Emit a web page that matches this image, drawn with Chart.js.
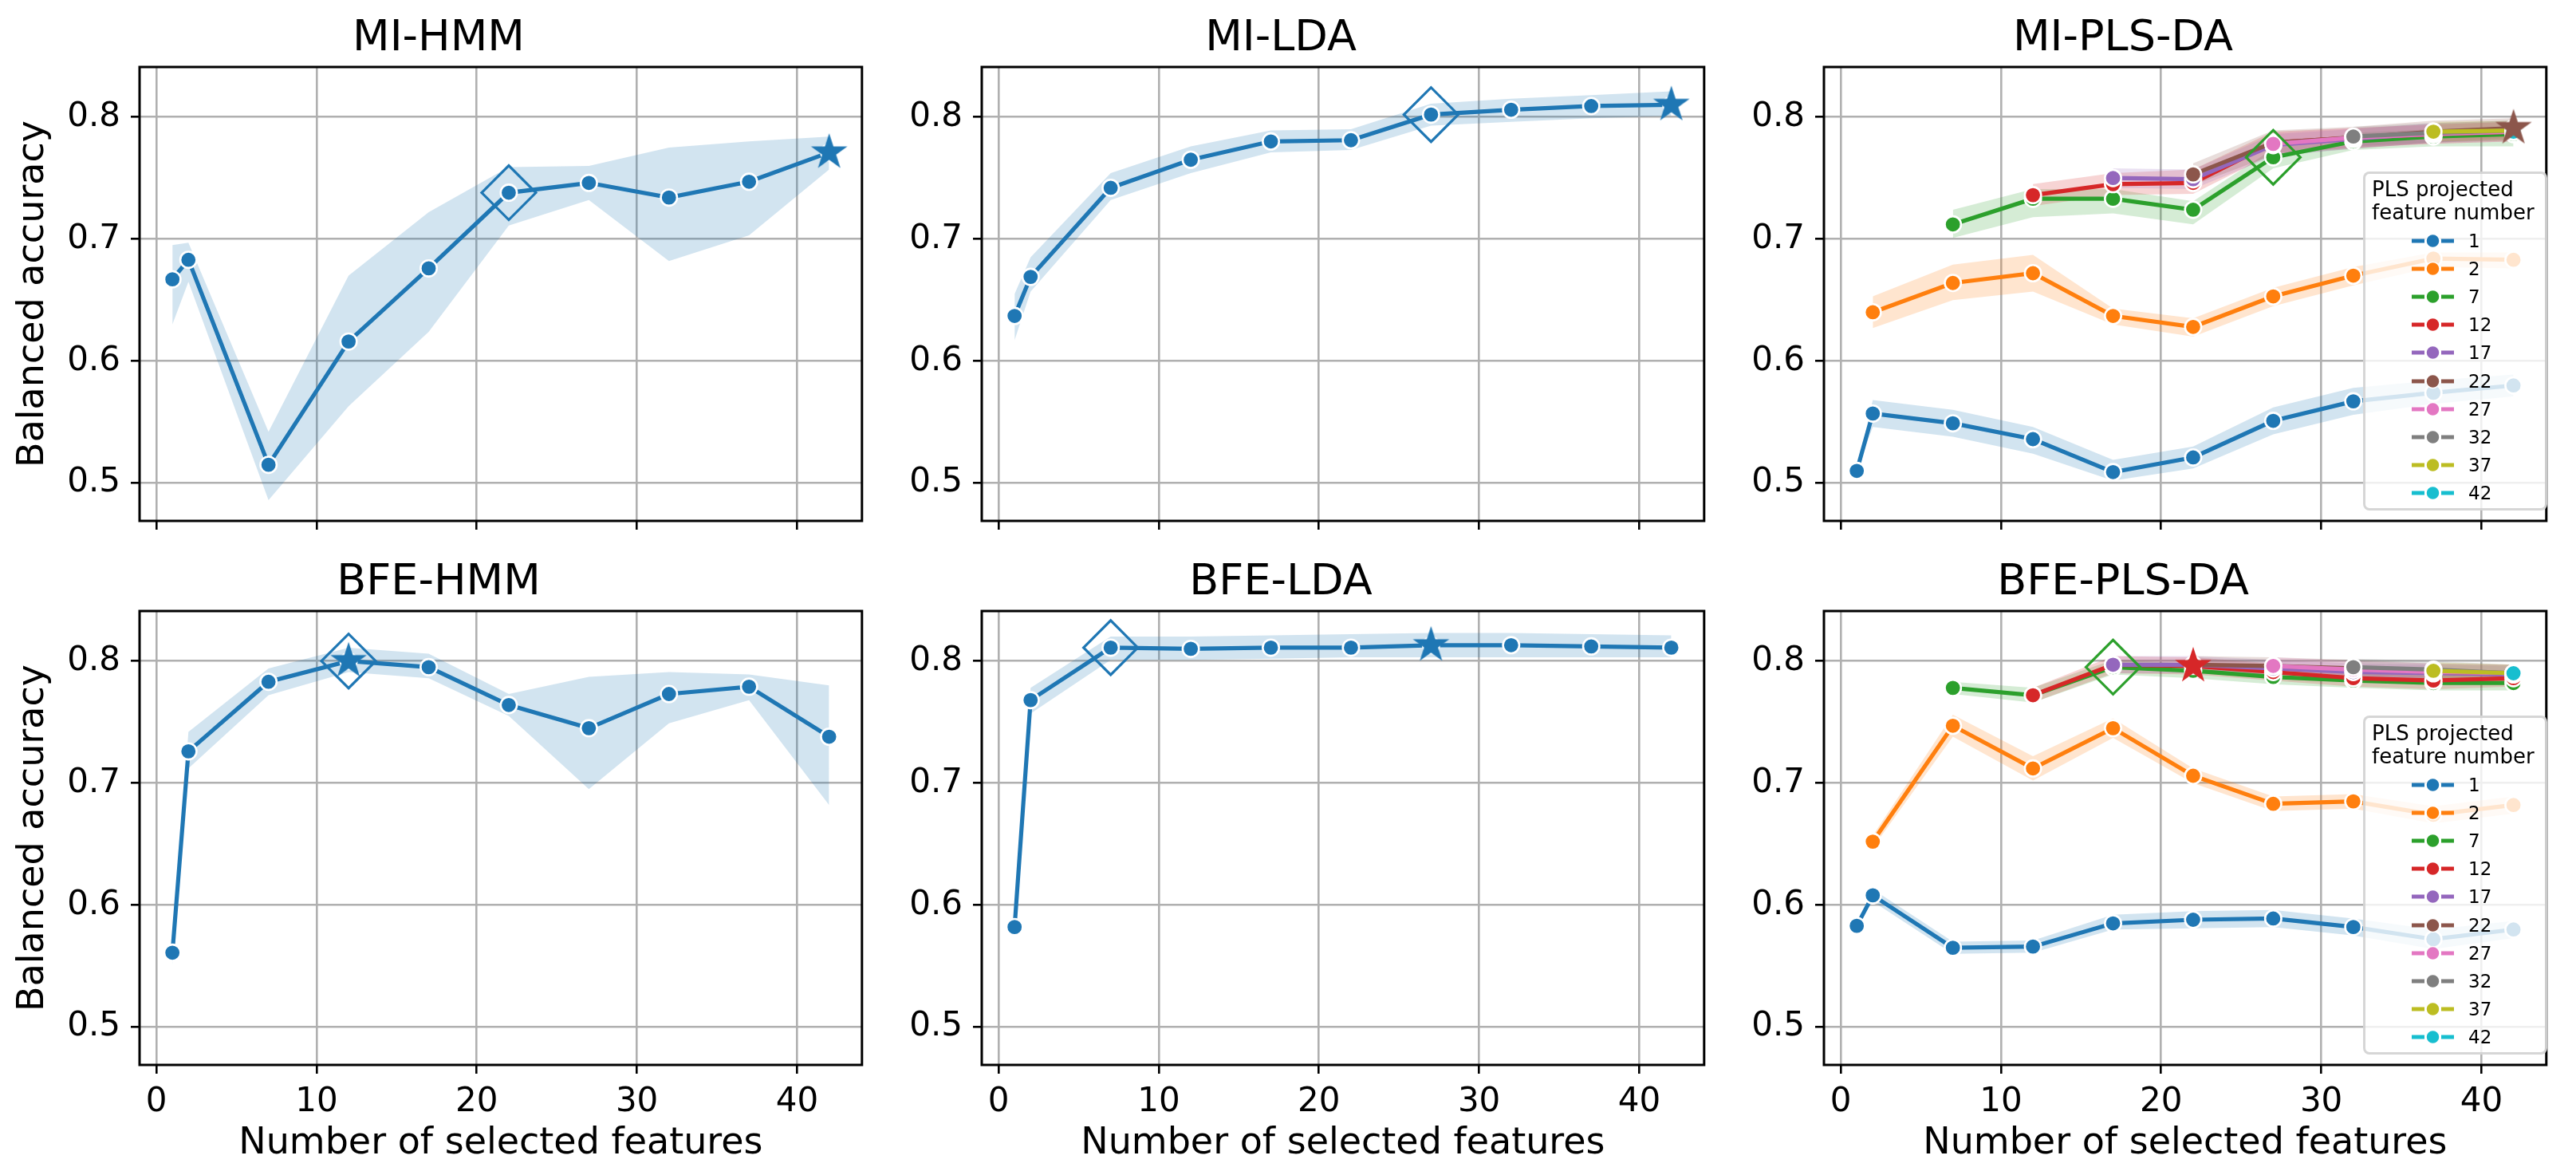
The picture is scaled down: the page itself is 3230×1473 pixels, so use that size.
<!DOCTYPE html>
<html>
<head>
<meta charset="utf-8">
<script src="https://cdn.jsdelivr.net/npm/chart.js@4/dist/chart.umd.min.js"></script>
<style>
  html, body { margin: 0; padding: 0; background: #fff; }
  #fig { position: relative; width: 3230px; height: 1473px; overflow: hidden; background: #fff; font-family: "DejaVu Sans", sans-serif; }
  #fig canvas { position: absolute; }
  .legend { position: absolute; width: 231px; height: 425px; box-sizing: border-box; border: 3px solid rgba(204,204,204,0.8); border-radius: 8px; background: rgba(255,255,255,0.8); }
  .legend div { position: absolute; white-space: nowrap; color: #000; }
  .ltitle { font-size: 26px; line-height: 29px; left: 8px; }
  .lrow { left: 0; width: 225px; height: 35px; }
  .lrow svg { position: absolute; left: 58px; top: 7px; }
  .lrow span { position: absolute; left: 129px; top: 0; font-size: 23px; line-height: 35px; }
</style>
</head>
<body>
<div id="fig"></div>
<script>
// ---- data ----
const featureCounts = [1, 2, 7, 12, 17, 22, 27, 32, 37, 42];
const plsComponents = [1, 2, 7, 12, 17, 22, 27, 32, 37, 42];
const xTicks = [0, 10, 20, 30, 40];
const yTicks = [0.5, 0.6, 0.7, 0.8];

// MI-HMM
const miHmmMean  = [0.667, 0.683, 0.515, 0.616, 0.676, 0.738, 0.746, 0.734, 0.747, 0.771];
const miHmmUpper = [0.695, 0.697, 0.542, 0.670, 0.722, 0.759, 0.760, 0.775, 0.780, 0.784];
const miHmmLower = [0.630, 0.665, 0.486, 0.563, 0.624, 0.711, 0.732, 0.682, 0.703, 0.757];
const miHmmBest = 22, miHmmTop = 42;

// MI-LDA
const miLdaMean  = [0.637, 0.669, 0.742, 0.765, 0.780, 0.781, 0.802, 0.806, 0.809, 0.810];
const miLdaUpper = [0.655, 0.685, 0.754, 0.776, 0.789, 0.790, 0.811, 0.815, 0.818, 0.821];
const miLdaLower = [0.617, 0.657, 0.732, 0.754, 0.771, 0.773, 0.793, 0.796, 0.799, 0.801];
const miLdaBest = 27, miLdaTop = 42;

// BFE-HMM
const bfeHmmMean  = [0.561, 0.726, 0.783, 0.800, 0.795, 0.764, 0.745, 0.773, 0.779, 0.738];
const bfeHmmUpper = [0.563, 0.742, 0.794, 0.811, 0.806, 0.773, 0.787, 0.791, 0.789, 0.780];
const bfeHmmLower = [0.551, 0.712, 0.772, 0.791, 0.786, 0.755, 0.695, 0.749, 0.768, 0.682];
const bfeHmmBest = 12, bfeHmmTop = 12;

// BFE-LDA
const bfeLdaMean  = [0.582, 0.768, 0.811, 0.810, 0.811, 0.811, 0.813, 0.813, 0.812, 0.811];
const bfeLdaUpper = [0.584, 0.778, 0.820, 0.820, 0.821, 0.822, 0.823, 0.823, 0.822, 0.821];
const bfeLdaLower = [0.575, 0.757, 0.801, 0.801, 0.802, 0.803, 0.803, 0.803, 0.803, 0.803];
const bfeLdaBest = 7, bfeLdaTop = 27;

// MI-PLS-DA: one list per PLS component count (points at feature counts >= components)
const miPlsMean = [
  [0.510, 0.557, 0.549, 0.536, 0.509, 0.521, 0.551, 0.567, 0.574, 0.580],
  [0.640, 0.664, 0.672, 0.637, 0.628, 0.653, 0.670, 0.684, 0.683],
  [0.712, 0.733, 0.733, 0.724, 0.767, 0.780, 0.784, 0.786],
  [0.736, 0.745, 0.746, 0.779, 0.783, 0.786, 0.788],
  [0.750, 0.749, 0.777, 0.782, 0.787, 0.789],
  [0.753, 0.779, 0.783, 0.788, 0.791],
  [0.778, 0.783, 0.786, 0.788],
  [0.784, 0.787, 0.789],
  [0.788, 0.789],
  [0.788]
];
const miPlsUpper = [
  [0.510, 0.568, 0.560, 0.546, 0.519, 0.530, 0.562, 0.578, 0.584, 0.589],
  [0.653, 0.679, 0.687, 0.643, 0.635, 0.660, 0.677, 0.689, 0.689],
  [0.724, 0.741, 0.741, 0.731, 0.774, 0.787, 0.790, 0.792],
  [0.745, 0.754, 0.757, 0.788, 0.791, 0.794, 0.796],
  [0.758, 0.757, 0.786, 0.790, 0.795, 0.797],
  [0.762, 0.789, 0.792, 0.797, 0.799],
  [0.787, 0.791, 0.794, 0.796],
  [0.792, 0.795, 0.797],
  [0.796, 0.797],
  [0.788]
];
const miPlsLower = [
  [0.510, 0.546, 0.538, 0.524, 0.502, 0.512, 0.540, 0.556, 0.565, 0.571],
  [0.627, 0.650, 0.657, 0.630, 0.620, 0.645, 0.662, 0.677, 0.676],
  [0.701, 0.718, 0.721, 0.712, 0.758, 0.773, 0.776, 0.776],
  [0.727, 0.736, 0.737, 0.770, 0.775, 0.778, 0.780],
  [0.742, 0.741, 0.768, 0.774, 0.779, 0.781],
  [0.744, 0.769, 0.774, 0.779, 0.783],
  [0.769, 0.775, 0.778, 0.780],
  [0.776, 0.779, 0.781],
  [0.780, 0.781],
  [0.788]
];
const miPlsBest = [7, 27];   // [components, features]
const miPlsTop = [22, 42];

// BFE-PLS-DA
const bfePlsMean = [
  [0.583, 0.608, 0.565, 0.566, 0.585, 0.588, 0.589, 0.582, 0.572, 0.580],
  [0.652, 0.747, 0.712, 0.745, 0.706, 0.683, 0.685, 0.674, 0.682],
  [0.778, 0.772, 0.795, 0.792, 0.787, 0.784, 0.782, 0.782],
  [0.772, 0.797, 0.796, 0.791, 0.786, 0.784, 0.786],
  [0.797, 0.797, 0.794, 0.791, 0.790, 0.789],
  [0.797, 0.796, 0.794, 0.791, 0.790],
  [0.796, 0.793, 0.791, 0.790],
  [0.795, 0.793, 0.790],
  [0.792, 0.790],
  [0.790]
];
const bfePlsUpper = [
  [0.583, 0.613, 0.570, 0.571, 0.592, 0.595, 0.596, 0.589, 0.580, 0.587],
  [0.657, 0.756, 0.722, 0.753, 0.712, 0.689, 0.691, 0.681, 0.689],
  [0.783, 0.778, 0.801, 0.798, 0.793, 0.790, 0.788, 0.788],
  [0.778, 0.804, 0.803, 0.798, 0.793, 0.791, 0.793],
  [0.804, 0.804, 0.801, 0.798, 0.797, 0.796],
  [0.804, 0.803, 0.801, 0.798, 0.797],
  [0.803, 0.800, 0.798, 0.797],
  [0.802, 0.800, 0.797],
  [0.799, 0.797],
  [0.790]
];
const bfePlsLower = [
  [0.583, 0.603, 0.560, 0.561, 0.580, 0.581, 0.582, 0.575, 0.564, 0.573],
  [0.647, 0.738, 0.702, 0.737, 0.700, 0.677, 0.679, 0.667, 0.675],
  [0.773, 0.766, 0.789, 0.786, 0.781, 0.778, 0.776, 0.776],
  [0.766, 0.790, 0.789, 0.784, 0.779, 0.777, 0.779],
  [0.790, 0.790, 0.787, 0.784, 0.783, 0.782],
  [0.790, 0.789, 0.787, 0.784, 0.783],
  [0.789, 0.786, 0.784, 0.783],
  [0.788, 0.786, 0.783],
  [0.785, 0.783],
  [0.790]
];
const bfePlsBest = [7, 17];
const bfePlsTop = [12, 22];

// ---- look ----
const FONT = '"DejaVu Sans", sans-serif';
const tab10 = ['#1f77b4', '#ff7f0e', '#2ca02c', '#d62728', '#9467bd', '#8c564b', '#e377c2', '#7f7f7f', '#bcbd22', '#17becf'];
const AX = { cols: [175, 1231, 2287], rows: [84, 766], w: 925, h: 569 };
const LEFT = 175, RIGHT = 18;
const fig = document.getElementById('fig');

function alpha(hex, a) {
  const n = parseInt(hex.slice(1), 16);
  return `rgba(${n >> 16},${(n >> 8) & 255},${n & 255},${a})`;
}

function starImage(color, r) {
  const c = document.createElement('canvas');
  const s = Math.ceil(r * 2 + 4);
  c.width = c.height = s;
  const g = c.getContext('2d');
  g.translate(s / 2, s / 2);
  g.beginPath();
  for (let i = 0; i < 10; i++) {
    const rad = i % 2 ? r * 0.382 : r;
    const a = -Math.PI / 2 + i * Math.PI / 5;
    g.lineTo(rad * Math.cos(a), rad * Math.sin(a));
  }
  g.closePath();
  g.fillStyle = color;
  g.fill();
  return c;
}

const frame = {
  id: 'frame',
  afterDatasetsDraw(chart) {
    const { ctx, chartArea: a } = chart;
    ctx.save();
    ctx.strokeStyle = '#000';
    ctx.lineWidth = 3;
    ctx.strokeRect(a.left, a.top, a.right - a.left, a.bottom - a.top);
    ctx.restore();
  }
};

function singleSeries(mean, up, lo) {
  return [{ label: '', color: tab10[0], xs: featureCounts, mean, up, lo }];
}
function plsSeries(mean, up, lo) {
  return plsComponents.map((k, i) => ({
    label: String(k), color: tab10[i], xs: featureCounts.filter(x => x >= k),
    mean: mean[i], up: up[i], lo: lo[i]
  }));
}

function addLegend(axLeft, axTop, series) {
  const box = document.createElement('div');
  box.className = 'legend';
  box.style.left = (axLeft + AX.w - 249) + 'px';
  box.style.top = (axTop + 131) + 'px';
  ['PLS projected', 'feature number'].forEach((t, i) => {
    const d = document.createElement('div');
    d.className = 'ltitle';
    d.style.top = (4.5 + 29 * i) + 'px';
    d.textContent = t;
    box.appendChild(d);
  });
  series.forEach((s, i) => {
    const row = document.createElement('div');
    row.className = 'lrow';
    row.style.top = (66.5 + 35.2 * i) + 'px';
    row.innerHTML =
      `<svg width="56" height="20" viewBox="0 0 56 20">` +
      `<line x1="0" y1="10" x2="16" y2="10" stroke="${s.color}" stroke-width="5"/>` +
      `<line x1="37" y1="10" x2="53" y2="10" stroke="${s.color}" stroke-width="5"/>` +
      `<circle cx="26.5" cy="10" r="8.5" fill="${s.color}" stroke="#fff" stroke-width="1.5"/></svg>` +
      `<span>${s.label}</span>`;
    box.appendChild(row);
  });
  fig.appendChild(box);
}

function addPanel(title, col, row, series, best, top, legend) {
  const axLeft = AX.cols[col], axTop = AX.rows[row];
  const cv = document.createElement('canvas');
  const width = LEFT + AX.w + RIGHT;
  const height = row === 0 ? 700 : 1473 - (axTop - 84);
  cv.width = width; cv.height = height;
  cv.style.left = (axLeft - LEFT) + 'px';
  cv.style.top = (axTop - 84) + 'px';
  fig.appendChild(cv);
  const xAxisH = height - 84 - AX.h;

  const ds = [];
  series.forEach((s, k) => {
    const pts = arr => s.xs.map((x, i) => ({ x, y: arr[i] }));
    ds.push({ data: pts(s.up), borderColor: 'transparent', borderWidth: 0, pointRadius: 0,
              fill: '+1', backgroundColor: alpha(s.color, 0.2), order: 1000 - 2 * k });
    ds.push({ data: pts(s.lo), borderColor: 'transparent', borderWidth: 0, pointRadius: 0,
              fill: false, order: 999 - 2 * k });
    ds.push({ data: pts(s.mean), borderColor: s.color, borderWidth: 5.2, fill: false,
              pointRadius: 10.2, pointBorderWidth: 2.6, pointBorderColor: '#fff',
              pointBackgroundColor: s.color, order: 500 - k });
  });
  const mark = ([si, x]) => {
    const s = series[si];
    return { s, pt: { x, y: s.mean[s.xs.indexOf(x)] } };
  };
  const b = mark(best), t = mark(top);
  ds.push({ data: [b.pt], showLine: false, pointStyle: 'rectRot', pointRadius: 34,
            pointBorderWidth: 3.2, pointBorderColor: b.s.color, pointBackgroundColor: 'rgba(0,0,0,0)', order: 2 });
  ds.push({ data: [t.pt], showLine: false, pointStyle: starImage(t.s.color, 24), pointRadius: 24,
            order: 1 });

  const grid = { color: '#b0b0b0', lineWidth: 2.6, tickColor: '#000', tickWidth: 2.6, tickLength: 11 };
  new Chart(cv, {
    type: 'line',
    data: { datasets: ds },
    options: {
      responsive: false, animation: false, devicePixelRatio: 1,
      layout: { padding: { left: 0, right: RIGHT, top: 0, bottom: 0 } },
      events: [],
      plugins: {
        legend: { display: false }, tooltip: { enabled: false },
        title: { display: true, text: title, color: '#000',
                 font: { family: FONT, size: 54, weight: 'normal' },
                 padding: { top: 16.6, bottom: 2.6 } }
      },
      scales: {
        x: {
          type: 'linear', min: -1.05, max: 44.05,
          afterBuildTicks: s => { s.ticks = xTicks.map(v => ({ value: v })); },
          afterFit: s => { s.height = xAxisH; },
          grid, border: { display: false },
          ticks: { color: '#000', font: { family: FONT, size: 42 }, padding: 11, maxRotation: 0,
                   callback: v => row === 1 ? String(v) : '' },
          title: { display: row === 1, text: 'Number of selected features', color: '#000',
                   font: { family: FONT, size: 46 }, padding: { top: 0, bottom: 11 } }
        },
        y: {
          type: 'linear', min: 0.469, max: 0.841,
          afterBuildTicks: s => { s.ticks = yTicks.map(v => ({ value: v })); },
          afterFit: s => { s.width = LEFT; },
          grid, border: { display: false },
          ticks: { color: '#000', font: { family: FONT, size: 42 }, padding: 13,
                   callback: v => Number(v).toFixed(1) },
          title: { display: col === 0, text: 'Balanced accuracy', color: '#000',
                   font: { family: FONT, size: 46 }, padding: { top: 14.7, bottom: 0 } }
        }
      }
    },
    plugins: [frame]
  });
  if (legend) addLegend(axLeft, axTop, series);
}

addPanel('MI-HMM', 0, 0, singleSeries(miHmmMean, miHmmUpper, miHmmLower), [0, miHmmBest], [0, miHmmTop], false);
addPanel('MI-LDA', 1, 0, singleSeries(miLdaMean, miLdaUpper, miLdaLower), [0, miLdaBest], [0, miLdaTop], false);
addPanel('MI-PLS-DA', 2, 0, plsSeries(miPlsMean, miPlsUpper, miPlsLower),
         [plsComponents.indexOf(miPlsBest[0]), miPlsBest[1]], [plsComponents.indexOf(miPlsTop[0]), miPlsTop[1]], true);
addPanel('BFE-HMM', 0, 1, singleSeries(bfeHmmMean, bfeHmmUpper, bfeHmmLower), [0, bfeHmmBest], [0, bfeHmmTop], false);
addPanel('BFE-LDA', 1, 1, singleSeries(bfeLdaMean, bfeLdaUpper, bfeLdaLower), [0, bfeLdaBest], [0, bfeLdaTop], false);
addPanel('BFE-PLS-DA', 2, 1, plsSeries(bfePlsMean, bfePlsUpper, bfePlsLower),
         [plsComponents.indexOf(bfePlsBest[0]), bfePlsBest[1]], [plsComponents.indexOf(bfePlsTop[0]), bfePlsTop[1]], true);
</script>
</body>
</html>
